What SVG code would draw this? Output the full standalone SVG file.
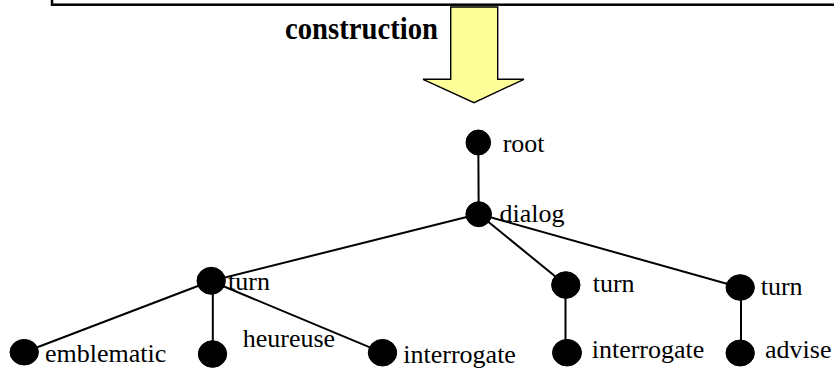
<svg xmlns="http://www.w3.org/2000/svg" width="834" height="368" viewBox="0 0 834 368">
<style>
.lbl{font-family:"Liberation Serif","Times New Roman",serif;font-size:26px;fill:#000}
.nd{fill:#000;stroke:#000;stroke-width:1}
.edge{stroke:#000;stroke-width:2;fill:none}
</style>
<rect width="834" height="368" fill="#fff"/>
<rect x="52" y="-20" width="820" height="24.7" fill="none" stroke="#000" stroke-width="2.5"/>
<g id="construction-arrow">
<polygon points="450.7,7 497.7,7 497.7,79.3 524,79.3 474,102.7 423,79.3 450.7,79.3" fill="#ffff99" stroke="#000" stroke-width="1.4" stroke-linejoin="miter"/>
<text x="285" y="39.3" font-family="Liberation Serif,'Times New Roman',serif" font-weight="bold" font-size="32" textLength="153" lengthAdjust="spacingAndGlyphs">construction</text>
</g>
<g id="connectors">
<line class="edge" x1="478.3" y1="142.5" x2="478.7" y2="214"/>
<line class="edge" x1="478.7" y1="214" x2="211" y2="281"/>
<line class="edge" x1="478.7" y1="214" x2="565.8" y2="285"/>
<line class="edge" x1="478.7" y1="214" x2="740.2" y2="287.5"/>
<line class="edge" x1="211" y1="281" x2="24.2" y2="352.2"/>
<line class="edge" x1="212.8" y1="281" x2="212.8" y2="354"/>
<line class="edge" x1="211" y1="281" x2="382.5" y2="352.7"/>
<line class="edge" x1="565.5" y1="285" x2="565.5" y2="352.7"/>
<line class="edge" x1="741" y1="287.5" x2="741" y2="353"/>
</g>
<g id="root"><ellipse class="nd" cx="478.3" cy="142.5" rx="12.3" ry="12.5"/><text class="lbl" x="502.7" y="151.7">root</text></g>
<g id="dialog"><ellipse class="nd" cx="478.7" cy="214.2" rx="12.8" ry="12.5"/><text class="lbl" x="499.5" y="221.7">dialog</text></g>
<g id="turn1"><ellipse class="nd" cx="211.2" cy="280.8" rx="14.2" ry="13.5"/><text class="lbl" x="228" y="290">turn</text></g>
<g id="turn2"><ellipse class="nd" cx="565.8" cy="285" rx="14.2" ry="13.3"/><text class="lbl" x="592.7" y="291.7">turn</text></g>
<g id="turn3"><ellipse class="nd" cx="740.2" cy="287.5" rx="14.2" ry="12.8"/><text class="lbl" x="760.7" y="295">turn</text></g>
<g id="emblematic"><ellipse class="nd" cx="24.2" cy="352.2" rx="14.2" ry="12.8"/><text class="lbl" x="45" y="361.7">emblematic</text></g>
<g id="heureuse"><ellipse class="nd" cx="212.5" cy="354" rx="14.2" ry="13.3"/><text class="lbl" x="242.7" y="346.7">heureuse</text></g>
<g id="interrogate1"><ellipse class="nd" cx="382.5" cy="352.7" rx="14.2" ry="13.3"/><text class="lbl" x="403.3" y="363.3">interrogate</text></g>
<g id="interrogate2"><ellipse class="nd" cx="567" cy="352.7" rx="14.5" ry="13.3"/><text class="lbl" x="591.7" y="358.3">interrogate</text></g>
<g id="advise"><ellipse class="nd" cx="740.2" cy="353" rx="14.2" ry="13"/><text class="lbl" x="765" y="358.3">advise</text></g>
</svg>
